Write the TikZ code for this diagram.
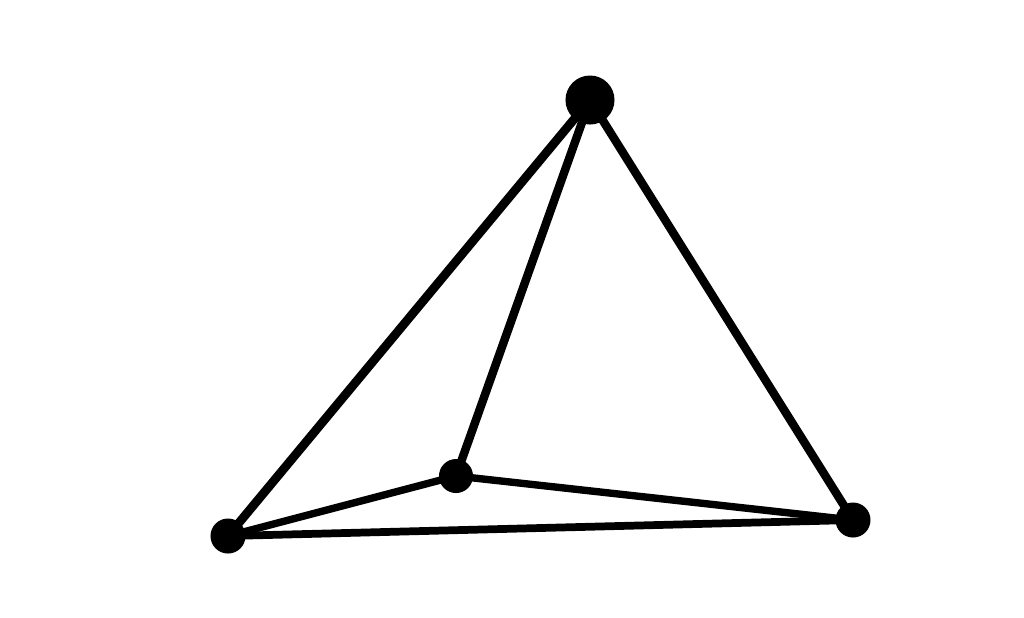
\documentclass[tikz,border=0pt]{standalone}
\begin{document}
\begin{tikzpicture}[x=0.01cm,y=-0.01cm,
  vert/.style={circle,fill=black,inner sep=0pt,minimum size=#1},
  edge/.style={line width=#1,black,line cap=round}]
\useasboundingbox (0,0) rectangle (1024,617);
\node[vert=0.49cm] (t) at (590,100) {};
\node[vert=0.35cm] (l) at (228,536) {};
\node[vert=0.34cm] (m) at (456,476) {};
\node[vert=0.35cm] (r) at (853,520) {};
\begin{scope}[on background layer/.try]
\draw[edge=2.5pt] (t.center) -- (l.center);
\draw[edge=2.4pt] (t.center) -- (m.center);
\draw[edge=2.4pt] (t.center) -- (r.center);
\draw[edge=2.1pt] (l.center) -- (m.center);
\draw[edge=2.1pt] (m.center) -- (r.center);
\draw[edge=2.2pt] (l.center) -- (r.center);
\end{scope}
\end{tikzpicture}
\end{document}
